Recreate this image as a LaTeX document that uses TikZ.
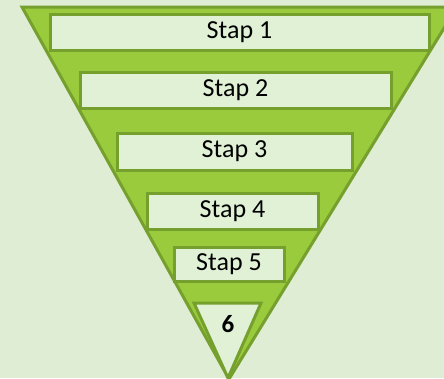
\documentclass[tikz,border=0pt]{standalone}
\usepackage{fontspec}
\setmainfont{Carlito}
\usepackage{tikz}
\usetikzlibrary{calc}
\definecolor{bggreen}{HTML}{DFEDD4}
\definecolor{midgreen}{HTML}{9ACB3C}
\definecolor{darkgreen}{HTML}{76A02E}
\definecolor{palegreen}{HTML}{E0F1D6}

\begin{document}
\begin{tikzpicture}[x=1pt,y=-1pt,
  stapbox/.style={rectangle,draw=darkgreen,fill=palegreen,line width=3pt,
    inner sep=0pt,font=\fontsize{26}{30}\selectfont},
  outline/.style={draw=darkgreen,line width=3pt,line join=miter}]
\useasboundingbox (0,0) rectangle (444,378);
\fill[bggreen] (0,0) rectangle (444,378);
\clip (0,0) rectangle (444,378);

% big funnel
\coordinate (tl) at (22,7);
\coordinate (tr) at (457,7);
\coordinate (tip) at (229,379);
\filldraw[outline,fill=midgreen] (tl) -- (tr) -- (tip) -- cycle;

% steps
\node (stap1) at (239.5,32.5) [stapbox,minimum width=379pt,minimum height=36pt] {Stap 1};
\node (stap2) at (235.5,90) [stapbox,minimum width=311pt,minimum height=36pt] {Stap 2};
\node (stap3) at (234.5,151.5) [stapbox,minimum width=235pt,minimum height=37pt] {Stap 3};
\node (stap4) at (232.5,211) [stapbox,minimum width=171pt,minimum height=36pt] {Stap 4};
\node (stap5) at (229,264) [stapbox,minimum width=110pt,minimum height=34pt] {Stap 5};

% last step
\coordinate (sl) at (194,303);
\coordinate (sr) at (261,303);
\coordinate (stip) at (228,378);
\filldraw[outline,fill=palegreen] (sl) -- (sr) -- (stip) -- cycle;
\node (stap6) at (228,324) {\fontsize{25}{30}\selectfont\bfseries 6};

\end{tikzpicture}
\end{document}
